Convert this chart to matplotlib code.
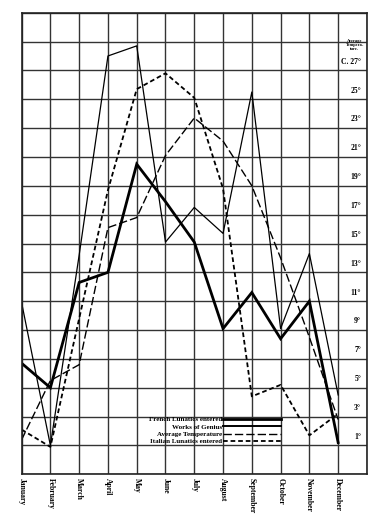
import numpy as np
import matplotlib
matplotlib.use("Agg")
import matplotlib.pyplot as plt
from matplotlib.lines import Line2D

# --- data (all on the temperature scale of the right-hand column) ---
months = ["January", "February", "March", "April", "May", "June", "July",
          "August", "September", "October", "November", "December"]
french_lunatics = [5.7, 4.0, 11.3, 12.0, 19.5, 16.9, 14.1, 8.1, 10.6, 7.4, 10.0, 0.2]
works_of_genius = [9.9, 0.0, 13.2, 27.0, 27.7, 14.1, 16.5, 14.7, 24.5, 8.1, 13.3, 3.5]
avg_temperature = [0.4, 4.5, 5.6, 15.1, 15.8, 20.1, 22.7, 21.1, 18.0, 13.0, 7.5, 1.8]
italian_lunatics = [1.1, -0.1, 8.8, 17.7, 24.7, 25.8, 24.1, 17.8, 3.4, 4.2, 0.7, 2.2]
temp_labels = [27, 25, 23, 21, 19, 17, 15, 13, 11, 9, 7, 5, 3, 1]

serif = ["Liberation Serif", "DejaVu Serif"]
plt.rcParams["font.family"] = serif

fig = plt.figure(figsize=(3.86, 5.16), dpi=100)
ax = fig.add_axes([0.056, 0.0808, 0.8946, 0.8946])

x = np.arange(len(months))
ax.plot(x, french_lunatics, color="black", lw=2.0, solid_joinstyle="miter")
ax.plot(x, works_of_genius, color="black", lw=0.9)
ax.plot(x, avg_temperature, color="black", lw=1.0, dashes=(6, 2.2))
ax.plot(x, italian_lunatics, color="black", lw=1.3, dashes=(2.6, 1.6))

ax.set_xlim(0, 12)
ax.set_ylim(-2, 30)
ax.set_xticks(np.arange(13))
ax.set_xticklabels(months + [""], rotation=270, fontsize=5.5, fontweight="bold")
ax.set_yticks(np.arange(-2, 31, 2))
ax.set_yticklabels([])
ax.tick_params(length=0, pad=3)
ax.grid(True, color="#333333", lw=1.0)
ax.set_axisbelow(True)
for s in ax.spines.values():
    s.set_color("#222222")
    s.set_linewidth(1.2)

# temperature scale in the last column
for t in temp_labels:
    lab = "C. %d°" % t if t == 27 else "%d°" % t
    ax.text(11.8, t - 0.4, lab, ha="right", va="center", fontsize=5.5,
            fontweight="bold")
ax.text(11.58, 27.75, "Average\nTempera-\nture.", ha="center", va="center",
        fontsize=3.2, fontweight="bold", linespacing=0.9)

handles = [
    Line2D([], [], color="black", lw=2.0),
    Line2D([], [], color="black", lw=1.4),
    Line2D([], [], color="black", lw=1.0, dashes=(6, 2.2)),
    Line2D([], [], color="black", lw=1.3, dashes=(2.6, 1.6)),
]
names = ["French Lunatics entered", "Works of Genius",
         "Average Temperature", "Italian Lunatics entered"]
ax.legend(handles, names, loc="upper right", bbox_to_anchor=(0.751, 0.125),
          markerfirst=False, frameon=False, fontsize=5, handlelength=8.3,
          labelspacing=0.2, handletextpad=0.2, borderpad=0, borderaxespad=0,
          prop={"family": serif, "weight": "bold", "size": 5})

fig.savefig("out.png", dpi=100, facecolor="white")
